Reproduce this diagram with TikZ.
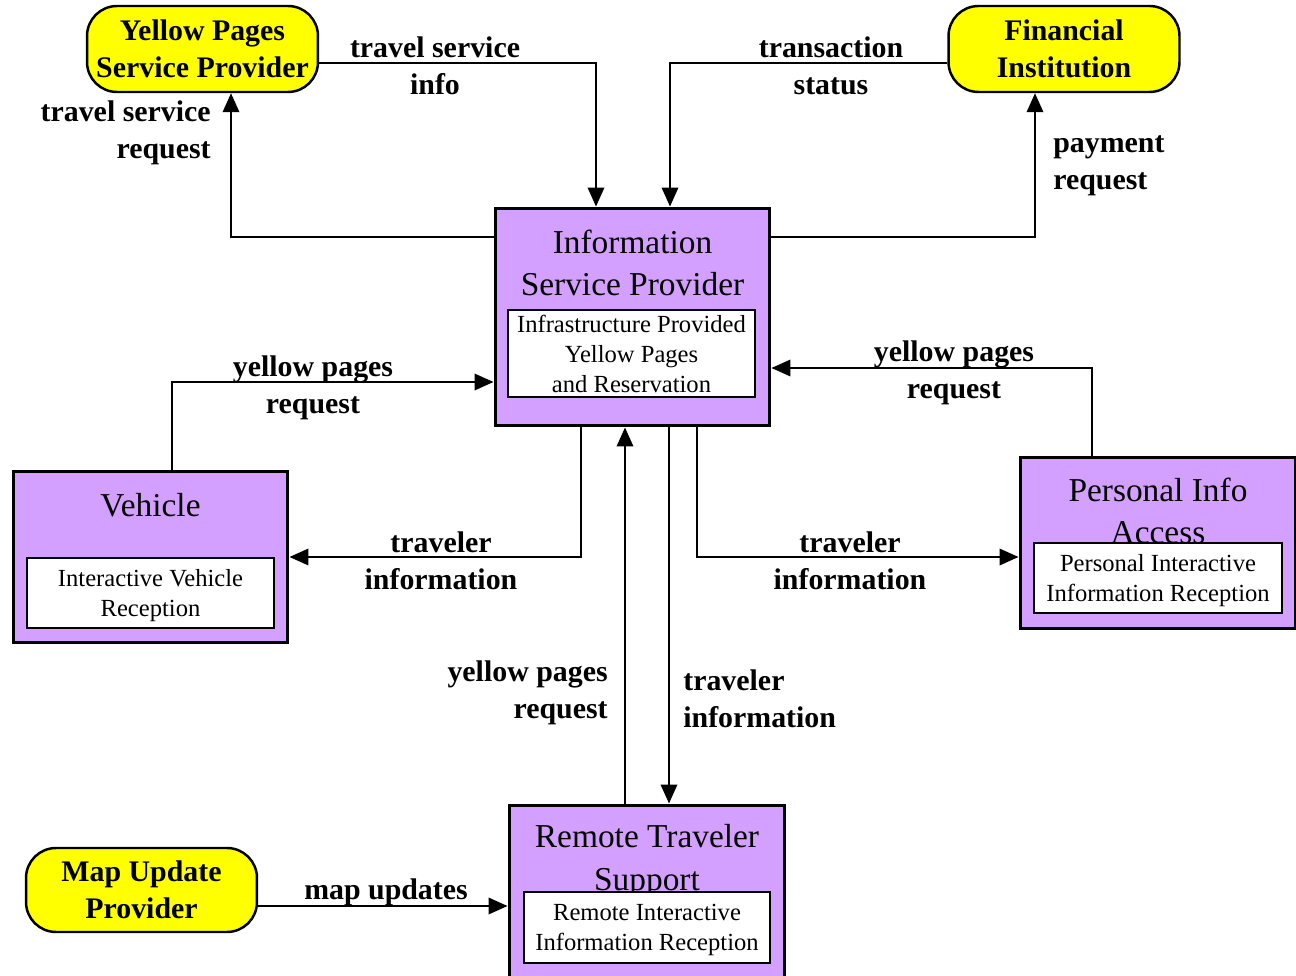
\documentclass[tikz,border=0pt]{standalone}
\usepackage{fontspec}
\setmainfont{Liberation Serif}
\usetikzlibrary{arrows.meta,positioning,calc}
\definecolor{ypyellow}{RGB}{255,255,0}
\definecolor{subviolet}{RGB}{212,160,255}

\begin{document}
\begin{tikzpicture}[
  x=0.02cm, y=-0.02cm,
  ext/.style={rectangle, draw=black, line width=1.4pt, rounded corners=0.6cm,
              fill=ypyellow, minimum width=4.62cm, minimum height=1.72cm,
              align=center, inner sep=0pt, font=\fontsize{17}{21}\selectfont\bfseries},
  subsys/.style={rectangle, draw=black, line width=1.7pt, fill=subviolet,
                 minimum width=5.5cm, inner sep=0pt},
  ttl/.style={align=center, inner sep=0pt, font=\fontsize{19}{24}\selectfont},
  equip/.style={rectangle, draw=black, line width=1.2pt, fill=white,
                minimum width=4.94cm, align=center, inner sep=0pt, text depth=0pt,
                font=\fontsize{14}{17}\selectfont},
  flow/.style={-{Triangle[length=3.8mm, width=3.3mm]}, line width=1.1pt},
  lbl/.style={align=center, inner sep=0pt, font=\fontsize{17}{21}\selectfont\bfseries}
]
\useasboundingbox (0,0) rectangle (1296,976);

\node[ext] (yp)  at (202.5,49) {Yellow Pages\\Service Provider};
\node[ext] (fi)  at (1064,49)  {Financial\\Institution};
\node[ext, minimum height=1.68cm] (mup) at (141.5,890) {Map Update\\Provider};

\node[subsys, minimum height=4.36cm] (isp) at (632.5,317) {};
\node[ttl] (ispttl) at (632.5,263) {Information\\Service Provider};
\node[equip, minimum height=1.74cm] (ispin) at (631.5,353.5) {Infrastructure Provided\\Yellow Pages\\and Reservation};

\node[subsys, minimum height=3.44cm] (veh) at (150.5,557) {};
\node[ttl] (vehttl) at (150.5,505) {Vehicle};
\node[equip, minimum height=1.4cm] (vehin) at (150.5,593) {Interactive Vehicle\\Reception};

\node[subsys, minimum width=5.52cm, minimum height=3.44cm] (pia) at (1158,543) {};
\node[ttl] (piattl) at (1158,511) {Personal Info\\Access};
\node[equip, minimum width=4.96cm, minimum height=1.4cm] (piain) at (1158,578) {Personal Interactive\\Information Reception};

\node[subsys, minimum width=5.52cm, minimum height=3.46cm] (rts) at (647,891.5) {};
\node[ttl] (rtsttl) at (647,861) {Remote Traveler\\Support};
\node[equip, minimum width=4.92cm, minimum height=1.42cm] (rtsin) at (647,927.5) {Remote Interactive\\Information Reception};

\coordinate (tsi) at (596,63);
\coordinate (tsr) at (231,237);
\coordinate (trs) at (670,63);
\coordinate (pay) at (1035,237);
\coordinate (vyp) at (172,382);
\coordinate (pyp) at (1092,368);
\coordinate (vti) at (581,557);
\coordinate (pti) at (697,557);
\coordinate (ryp) at (625,600);
\coordinate (rti) at (669,600);
\coordinate (map) at (380,906);

\draw[flow] (yp.east |- tsi) -- (tsi) -- (tsi |- isp.north);
\draw[flow] (isp.west |- tsr) -- (tsr) -- (tsr |- yp.south);
\draw[flow] (fi.west |- trs) -- (trs) -- (trs |- isp.north);
\draw[flow] (isp.east |- pay) -- (pay) -- (pay |- fi.south);
\draw[flow] (veh.north -| vyp) -- (vyp) -- (vyp -| isp.west);
\draw[flow] (pia.north -| pyp) -- (pyp) -- (pyp -| isp.east);
\draw[flow] (isp.south -| vti) -- (vti) -- (vti -| veh.east);
\draw[flow] (isp.south -| pti) -- (pti) -- (pti -| pia.west);
\draw[flow] (rts.north -| ryp) -- (isp.south -| ryp);
\draw[flow] (isp.south -| rti) -- (rts.north -| rti);
\draw[flow] (mup.east |- map) -- (rts.west |- map);

\node[lbl] (l1) at (435,66) {travel service\\info};
\node[lbl, anchor=east, align=right] (l2) at (211,133) {travel service\\request};
\node[lbl] (l3) at (831,66) {transaction\\status};
\node[lbl, anchor=west, align=left] (l4) at (1053,166) {payment\\request};
\node[lbl] (l5) at (313,387.5) {yellow pages\\request};
\node[lbl] (l6) at (954,372.5) {yellow pages\\request};
\node[lbl] (l7) at (441,561) {traveler\\information};
\node[lbl] (l8) at (850,561) {traveler\\information};
\node[lbl, anchor=east, align=right] (l9) at (608,692.5) {yellow pages\\request};
\node[lbl, anchor=west, align=left] (l10) at (683,699) {traveler\\information};
\node[lbl] (l11) at (386,892) {map updates};
\end{tikzpicture}
\end{document}
